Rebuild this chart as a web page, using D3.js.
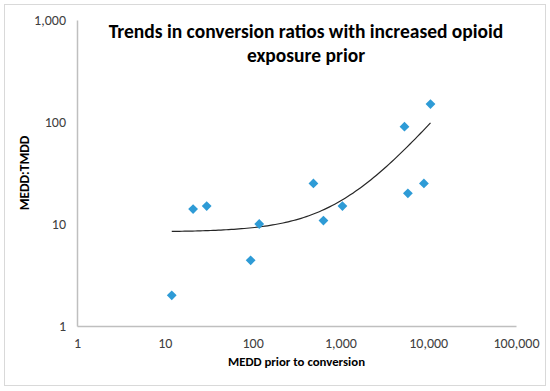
<!DOCTYPE html>
<html>
<head>
<meta charset="utf-8">
<script src="https://cdn.jsdelivr.net/npm/d3@7"></script>
<style>
    body { margin: 0; background: #fff; }
    text { font-family: Carlito, "Open Sans", "Liberation Sans", sans-serif; }
</style>
</head>
<body>
<div id="main"></div>
<script>
// values
var medd = [12, 21, 30, 95, 119, 493, 641, 1055, 5370, 5870, 8935, 10620];
var ratio = [2, 14, 15, 4.4, 10, 25, 10.8, 15, 90, 20, 25, 150];
var xTicks = [1, 10, 100, 1000, 10000, 100000];
var yTicks = [1, 10, 100, 1000];
var titleLines = ["Trends in conversion ratios with increased opioid", "exposure prior"];

var ctx = {
    w: 550,
    h: 391,
    left: 77,
    right: 516,
    top: 20,
    bottom: 326,
    pointColor: "#2e9bd6",
    axisColor: "#bfbfbf",
    labelColor: "#404040",
};

var svg = d3.select("#main").append("svg")
    .attr("width", ctx.w)
    .attr("height", ctx.h);

// chart frame
svg.append("rect")
    .attr("x", 4.5).attr("y", 4.5)
    .attr("width", 541).attr("height", 381)
    .attr("fill", "#fff")
    .attr("stroke", "#d9d9d9");

var x = d3.scaleLog().domain([1, 100000]).range([ctx.left, ctx.right]);
var y = d3.scaleLog().domain([1, 1000]).range([ctx.bottom, ctx.top]);
var fmt = d3.format(",");

var xAxis = svg.append("g")
    .attr("transform", `translate(0,${ctx.bottom})`)
    .call(d3.axisBottom(x).tickValues(xTicks).tickFormat(fmt).tickSize(0).tickPadding(12));
var yAxis = svg.append("g")
    .attr("transform", `translate(${ctx.left},0)`)
    .call(d3.axisLeft(y).tickValues(yTicks).tickFormat(fmt).tickSize(0).tickPadding(11));

[xAxis, yAxis].forEach(function (g) {
    g.select(".domain").attr("stroke", ctx.axisColor).attr("stroke-width", 1.5);
    g.selectAll("text")
        .attr("fill", ctx.labelColor)
        .style("font-size", "14px")
        .style("font-family", "Carlito, 'Open Sans', 'Liberation Sans', sans-serif");
});
yAxis.selectAll("text").attr("dy", "0.35em");

// linear trendline (least squares on raw values), drawn on the log axes
var pts = medd.map((d, i) => ({ x: d, y: ratio[i] }));
var mx = d3.mean(pts, (d) => d.x);
var my = d3.mean(pts, (d) => d.y);
var slope = d3.sum(pts, (d) => (d.x - mx) * (d.y - my)) / d3.sum(pts, (d) => (d.x - mx) * (d.x - mx));
var intercept = my - slope * mx;
var lo = Math.log10(d3.min(medd));
var hi = Math.log10(d3.max(medd));
var xs = d3.range(0, 101).map((i) => Math.pow(10, lo + i / 100 * (hi - lo)));

svg.append("path")
    .datum(xs)
    .attr("fill", "none")
    .attr("stroke", "#262626")
    .attr("stroke-width", 1.2)
    .attr("d", d3.line().x((d) => x(d)).y((d) => y(slope * d + intercept)));

// diamonds
svg.append("g")
    .selectAll("path")
    .data(pts)
    .enter()
    .append("path")
    .attr("d", d3.symbol().type(d3.symbolSquare).size(48))
    .attr("transform", (d) => `translate(${x(d.x)},${y(d.y)}) rotate(45)`)
    .attr("fill", ctx.pointColor);

// title
svg.append("g")
    .selectAll("text")
    .data(titleLines)
    .enter()
    .append("text")
    .attr("x", 306)
    .attr("y", (d, i) => 38 + i * 24)
    .attr("text-anchor", "middle")
    .style("font-size", "19.5px")
    .style("font-weight", "bold")
    .attr("fill", "#000")
    .text((d) => d);

// axis titles
svg.append("text")
    .attr("x", (ctx.left + ctx.right) / 2)
    .attr("y", 366)
    .attr("text-anchor", "middle")
    .style("font-size", "12.8px")
    .style("font-weight", "bold")
    .attr("fill", "#000")
    .text("MEDD prior to conversion");

svg.append("text")
    .attr("transform", `translate(29,${(ctx.top + ctx.bottom) / 2}) rotate(-90)`)
    .attr("text-anchor", "middle")
    .style("font-size", "13.5px")
    .style("font-weight", "bold")
    .attr("fill", "#000")
    .text("MEDD:TMDD");
</script>
</body>
</html>
